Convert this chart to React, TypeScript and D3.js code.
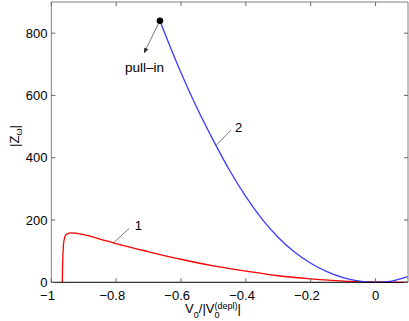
import React, { useEffect, useRef } from "react";
import * as d3 from "d3";

const width = 409;
const height = 321;
const space = { left: 51.3, right: 408, top: 2, bottom: 282.3 };

// curve 1 (red)
const redX = [-0.966, -0.9655, -0.964, -0.962, -0.959, -0.955, -0.948, -0.94, -0.925, -0.9, -0.85, -0.8, -0.7, -0.6, -0.5, -0.4, -0.3, -0.2, -0.1, 0, 0.1];
const redY = [0, 40, 90, 125, 143, 152, 157, 159, 158, 153, 139, 124, 98, 74, 53, 36, 21, 11, 4, 1, 0];

// curve 2 (blue), starts at pull-in point
const blueX = [-0.665, -0.65, -0.6, -0.55, -0.5, -0.45, -0.4, -0.35, -0.3, -0.25, -0.2, -0.15, -0.1, -0.05, 0, 0.05, 0.1];
const blueY = [840, 800, 673, 558, 455, 359, 275, 203, 144, 97, 61, 34, 15, 4, 0, 4, 18];

const xTicks = [-1, -0.8, -0.6, -0.4, -0.2, 0];
const yTicks = [0, 200, 400, 600, 800];

const font = "'Liberation Sans', Arial, Helvetica, sans-serif";

const App = () => {
  const ref = useRef<SVGSVGElement>(null);

  useEffect(() => {
    const svg = d3.select(ref.current);
    svg.selectAll("*").remove();

    const x = d3.scaleLinear().domain([-1, 0.1]).range([space.left, space.right]);
    const y = d3.scaleLinear().domain([0, 900]).range([space.bottom, space.top]);

    const line = d3
      .line<[number, number]>()
      .x((d) => x(d[0]))
      .y((d) => y(d[1]))
      .curve(d3.curveMonotoneX);

    const red = redX.map((v, i) => [v, redY[i]] as [number, number]);
    const blue = blueX.map((v, i) => [v, blueY[i]] as [number, number]);

    const g = svg.append("g");

    g.append("path").attr("d", line(red)).attr("fill", "none").attr("stroke", "#ff0000").attr("stroke-width", 1.3);
    g.append("path").attr("d", line(blue)).attr("fill", "none").attr("stroke", "#3a3aff").attr("stroke-width", 1.3);

    // frame
    const frame = svg.append("g").attr("fill", "none");
    frame
      .append("path")
      .attr("d", `M${space.left},${space.bottom}V${space.top}H${space.right}V${space.bottom}`)
      .attr("stroke", "#808080");
    frame
      .append("line")
      .attr("x1", space.left)
      .attr("x2", space.right)
      .attr("y1", space.bottom)
      .attr("y2", space.bottom)
      .attr("stroke", "#000");

    // ticks
    const tl = 4;
    xTicks.forEach((t) => {
      frame.append("line").attr("x1", x(t)).attr("x2", x(t)).attr("y1", space.bottom).attr("y2", space.bottom - tl).attr("stroke", "#666");
      frame.append("line").attr("x1", x(t)).attr("x2", x(t)).attr("y1", space.top).attr("y2", space.top + tl).attr("stroke", "#666");
    });
    yTicks.forEach((t) => {
      frame.append("line").attr("x1", space.left).attr("x2", space.left + tl).attr("y1", y(t)).attr("y2", y(t)).attr("stroke", "#666");
      frame.append("line").attr("x1", space.right).attr("x2", space.right - tl).attr("y1", y(t)).attr("y2", y(t)).attr("stroke", "#666");
    });

    const labels = svg.append("g").attr("font-family", font).attr("font-size", 13).attr("fill", "#000");
    xTicks.forEach((t) => {
      labels
        .append("text")
        .attr("x", x(t) + (t < 0 ? -3.8 : 0))
        .attr("y", 299.5)
        .attr("text-anchor", "middle")
        .text(t < 0 ? "\u2212" + String(-t) : String(t));
    });
    yTicks.forEach((t) => {
      labels
        .append("text")
        .attr("x", space.left - 3.8)
        .attr("y", y(t))
        .attr("dy", "0.35em")
        .attr("text-anchor", "end")
        .text(String(t));
    });

    // x axis label
    const xl = labels.append("text").attr("x", 213).attr("y", 312.7).attr("text-anchor", "middle");
    xl.append("tspan").text("V");
    xl.append("tspan").attr("font-size", 9).attr("dy", 5.5).text("0");
    xl.append("tspan").attr("dy", -5.5).text("/|V");
    xl.append("tspan").attr("font-size", 9).attr("dy", 5.5).text("0");
    xl.append("tspan").attr("font-size", 9).attr("dx", -5).attr("dy", -9.5).text("(depl)");
    xl.append("tspan").attr("dy", 4).text("|");

    // y axis label
    const yl = labels
      .append("text")
      .attr("transform", `translate(19,136) rotate(-90)`)
      .attr("text-anchor", "middle");
    yl.append("tspan").text("|Z");
    yl.append("tspan").attr("font-size", 9).attr("dy", 3).text("\u03c9");
    yl.append("tspan").attr("dy", -3).text("|");

    // annotations
    const ann = svg.append("g").attr("stroke", "#555").attr("stroke-width", 0.8);
    ann.append("line").attr("x1", x(-0.809)).attr("y1", y(126)).attr("x2", x(-0.76)).attr("y2", y(173));
    ann.append("line").attr("x1", x(-0.4917)).attr("y1", y(440)).attr("x2", x(-0.4454)).attr("y2", y(489));

    const px0 = x(blueX[0]);
    const py0 = y(blueY[0]);
    const px1 = x(-0.714);
    const py1 = y(736);
    ann.append("line").attr("x1", px0).attr("y1", py0).attr("x2", px1).attr("y2", py1);
    const ang = Math.atan2(py1 - py0, px1 - px0);
    const ah = 5;
    const aw = 2.2;
    const bx = px1 - ah * Math.cos(ang);
    const by = py1 - ah * Math.sin(ang);
    ann
      .append("path")
      .attr(
        "d",
        `M${px1},${py1}L${bx + aw * Math.sin(ang)},${by - aw * Math.cos(ang)}L${bx - aw * Math.sin(ang)},${by + aw * Math.cos(ang)}Z`
      )
      .attr("fill", "#222")
      .attr("stroke", "none");

    svg.append("circle").attr("cx", px0).attr("cy", py0).attr("r", 3.3).attr("fill", "#000");

    labels.append("text").attr("x", x(-0.7315)).attr("y", y(168)).attr("text-anchor", "middle").text("1");
    labels.append("text").attr("x", x(-0.4338)).attr("y", y(482)).text("2");
    labels.append("text").attr("x", 125).attr("y", 71.7).attr("font-size", 13.5).text("pull\u2013in");
  }, []);

  return (
    <div style={{ position: "absolute", left: 0, top: 0 }}>
      <svg ref={ref} width={width} height={height} viewBox={`0 0 ${width} ${height}`} style={{ display: "block", background: "#fff" }} />
    </div>
  );
};

export default App;
